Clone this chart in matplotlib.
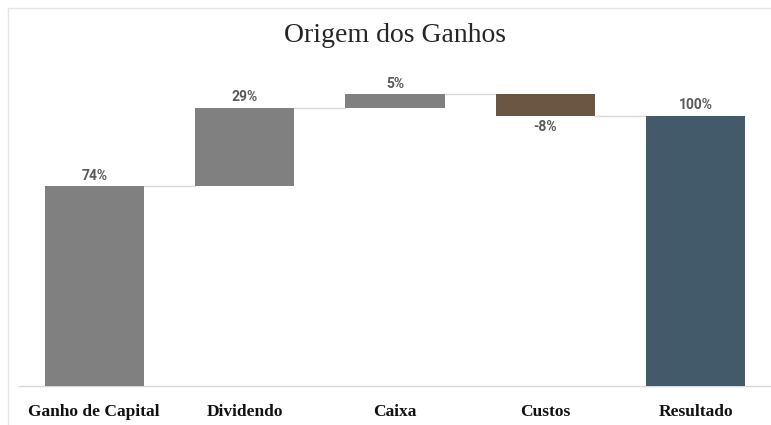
import matplotlib
matplotlib.use("Agg")
import matplotlib.pyplot as plt
from matplotlib.lines import Line2D

categories = ["Ganho de Capital", "Dividendo", "Caixa", "Custos", "Resultado"]
values = [74, 29, 5, -8, 100]
labels = ["74%", "29%", "5%", "-8%", "100%"]
is_total = [False, False, False, False, True]

colors_up = "#808080"
color_down = "#6b5741"
color_total = "#425a6a"

fig = plt.figure(figsize=(7.71, 4.25), dpi=100)
ax = fig.add_axes([19 / 771, 39 / 425, 1 - 19 / 771, (386 - 60) / 425])

# waterfall geometry
bottoms, heights, cols = [], [], []
running = 0
for v, tot in zip(values, is_total):
    if tot:
        bottoms.append(0)
        heights.append(v)
        cols.append(color_total)
        running = v
    else:
        if v >= 0:
            bottoms.append(running)
            heights.append(v)
            cols.append(colors_up)
        else:
            bottoms.append(running + v)
            heights.append(-v)
            cols.append(color_down)
        running += v

x = list(range(len(categories)))
width = 0.66
ax.bar(x, heights, bottom=bottoms, width=width, color=cols, zorder=3)

# connector lines between consecutive bars
levels = []
run = 0
for v, tot in zip(values, is_total):
    run = v if tot else run + v
    levels.append(run)
for i in range(len(x) - 1):
    ax.plot([x[i] + width / 2, x[i + 1] - width / 2], [levels[i], levels[i]],
            color="#d9d9d9", lw=1.0, zorder=2)

# value labels
lab_font = ["Roboto", "DejaVu Sans"]
for i, (v, lab) in enumerate(zip(values, labels)):
    if v >= 0:
        ax.text(x[i], bottoms[i] + heights[i] + 1.3, lab, ha="center", va="bottom",
                fontsize=10, fontweight="bold", color="#595959", family=lab_font)
    else:
        ax.text(x[i], bottoms[i] - 1.3, lab, ha="center", va="top",
                fontsize=10, fontweight="bold", color="#595959", family=lab_font)

ax.set_xlim(-0.5, 4.5)
ax.set_ylim(0, 326 / 2.70)
ax.set_xticks(x)
ax.set_xticklabels(categories, fontsize=12.5, fontweight="bold",
                   family=["Liberation Serif", "DejaVu Serif"], color="#111111")
ax.tick_params(axis="x", length=0, pad=13)
ax.set_yticks([])
for s in ["top", "right", "left"]:
    ax.spines[s].set_visible(False)
ax.spines["bottom"].set_color("#d9d9d9")
ax.spines["bottom"].set_linewidth(1.0)

fig.text(395 / 771, 1 - 35 / 425, "Origem dos Ganhos", ha="center", va="center",
         fontsize=20, family=["Liberation Serif", "DejaVu Serif"], color="#262626")

# chart area frame
fig.add_artist(Line2D([8 / 771, 1], [1 - 8 / 425, 1 - 8 / 425], color="#e6e6e6", lw=1))
fig.add_artist(Line2D([8 / 771, 8 / 771], [0, 1 - 8 / 425], color="#e6e6e6", lw=1))

fig.savefig("out.png", dpi=100)
